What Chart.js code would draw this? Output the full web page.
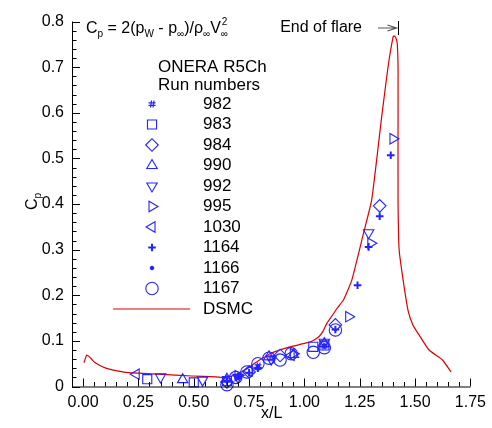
<!DOCTYPE html>
<html>
<head>
<meta charset="utf-8">
<script src="https://cdn.jsdelivr.net/npm/chart.js@4.4.1/dist/chart.umd.min.js"></script>
<style>
  html, body { margin: 0; padding: 0; background: #fff; }
</style>
</head>
<body>
<canvas id="cpChart" width="492" height="428"></canvas>
<script>
// ------------------------------- DATOS -------------------------------
const xTicks = [0, 0.25, 0.5, 0.75, 1.0, 1.25, 1.5, 1.75];
const yTicks = [0, 0.1, 0.2, 0.3, 0.4, 0.5, 0.6, 0.7, 0.8];
const runNumbers = ['982', '983', '984', '990', '992', '995', '1030', '1164', '1166', '1167'];

// experimental points [x/L, Cp]
const run982 = [[0.70, 0.021], [0.79, 0.045], [0.85, 0.062], [1.09, 0.088]];
const run983 = [[0.29, 0.016], [0.50, 0.009], [0.65, 0.012], [1.04, 0.087], [1.09, 0.090]];
const run984 = [[0.65, 0.010], [0.75, 0.032], [0.89, 0.068], [1.14, 0.135], [1.34, 0.396]];
const run990 = [[0.45, 0.015], [0.65, 0.016], [0.84, 0.065], [0.95, 0.070], [1.09, 0.094]];
const run992 = [[0.35, 0.021], [0.54, 0.014], [0.70, 0.020], [0.85, 0.060], [1.09, 0.097], [1.29, 0.337]];
const run995 = [[0.70, 0.024], [0.95, 0.072], [1.20, 0.153], [1.30, 0.314], [1.40, 0.543]];
const run1030 = [[0.24, 0.027], [0.75, 0.034], [0.94, 0.068]];
const run1164 = [[0.65, 0.012], [0.70, 0.022], [0.75, 0.030], [0.79, 0.040], [1.14, 0.125], [1.24, 0.222], [1.29, 0.306], [1.34, 0.373], [1.39, 0.507]];
const run1166 = [[0.70, 0.020], [0.79, 0.043], [1.09, 0.090]];
const run1167 = [[0.65, 0.004], [0.69, 0.020], [0.74, 0.032], [0.79, 0.050], [0.84, 0.062], [0.89, 0.058], [0.94, 0.072], [1.04, 0.075], [1.09, 0.085], [1.14, 0.124]];
const runData = [run982, run983, run984, run990, run992, run995, run1030, run1164, run1166, run1167];

// DSMC curve
const dsmcX = [0.004, 0.017, 0.035, 0.052, 0.085, 0.119, 0.193, 0.342, 0.491, 0.600, 0.640, 0.656, 0.690, 0.715, 0.745, 0.775, 0.810, 0.849, 0.900, 0.954, 1.013, 1.040, 1.065, 1.085, 1.102, 1.125, 1.147, 1.177, 1.214, 1.267, 1.304, 1.349, 1.378, 1.401, 1.408, 1.416, 1.420, 1.423, 1.423, 1.423, 1.428, 1.446, 1.468, 1.490, 1.518, 1.563, 1.624, 1.662];
const dsmcY = [0.052, 0.069, 0.062, 0.053, 0.044, 0.038, 0.031, 0.027, 0.023, 0.021, 0.020, 0.021, 0.026, 0.032, 0.041, 0.051, 0.062, 0.073, 0.082, 0.089, 0.096, 0.101, 0.109, 0.122, 0.139, 0.155, 0.171, 0.190, 0.233, 0.336, 0.409, 0.591, 0.701, 0.767, 0.768, 0.760, 0.748, 0.700, 0.584, 0.409, 0.299, 0.233, 0.167, 0.135, 0.113, 0.080, 0.058, 0.032];
const flareEnd = 1.423;

// estilos de simbolos
const runStyles = ['hash', 'rect', 'rectRot', 'triangle', 'triangle', 'triangle', 'triangle', 'cross', 'star', 'circle'];
const runRotation = [0, 0, 0, 0, 180, 90, -90, 0, 0, 0];
const runRadius = [4, 6.4, 6.3, 6, 6, 6, 6, 3.8, 2.2, 6.2];
const runWidth = [1.2, 1.1, 1.1, 1.1, 1.1, 1.1, 1.1, 2, 1.4, 1.1];

const markerBlue = 'rgb(35,35,255)';
const dsmcRed = 'rgb(220,0,0)';
const fontFam = '"Liberation Sans", Arial, sans-serif';

// simbolo '#' (no existe en Chart.js)
function makeHash() {
    const c = document.createElement('canvas');
    c.width = 12; c.height = 12;
    const g = c.getContext('2d');
    const m = 6;
    g.strokeStyle = markerBlue;
    g.lineWidth = 1.2;
    g.beginPath();
    g.moveTo(m - 0.5, m - 3.5); g.lineTo(m - 1.5, m + 3.5);
    g.moveTo(m + 2, m - 3.5); g.lineTo(m + 1, m + 3.5);
    g.moveTo(m - 3.5, m - 1.2); g.lineTo(m + 3.5, m - 1.2);
    g.moveTo(m - 3.5, m + 1.3); g.lineTo(m + 3.5, m + 1.3);
    g.stroke();
    return c;
}
const hashCanvas = makeHash();
const pointStyles = runStyles.map(s => (s === 'hash' ? hashCanvas : s));

// ------------------------------- DATASETS -------------------------------
const datasets = runData.map((pts, i) => ({
    label: runNumbers[i],
    data: pts.map(p => ({ x: p[0], y: p[1] })),
    pointStyle: pointStyles[i],
    pointRotation: runRotation[i],
    pointRadius: runRadius[i],
    pointBorderWidth: runWidth[i],
    pointBorderColor: markerBlue,
    pointBackgroundColor: 'rgba(0,0,0,0)',
    showLine: false,
    clip: false
}));
datasets.push({
    label: 'DSMC',
    data: dsmcX.map((x, i) => ({ x: x, y: dsmcY[i] })),
    showLine: true,
    borderColor: dsmcRed,
    borderWidth: 1.2,
    pointRadius: 0,
    tension: 0.15,
    clip: false
});

// texto con subindices: runs = [[texto, tamaño, dy]]
function drawRuns(g, runs, x, y) {
    for (const r of runs) {
        g.font = r[1] + 'px ' + fontFam;
        g.fillText(r[0], x, y + r[2]);
        x += g.measureText(r[0]).width;
    }
    return x;
}

// ------------------------------- PLUGIN EJES / ANOTACIONES -------------------------------
const cpDecor = {
    id: 'cpDecor',
    afterDraw(chart) {
        const g = chart.ctx;
        const xs = chart.scales.x, ys = chart.scales.y;
        const left = chart.chartArea.left, bottom = chart.chartArea.bottom;
        const top = ys.getPixelForValue(0.8), right = xs.getPixelForValue(1.75);
        g.save();
        g.strokeStyle = '#000';
        g.lineWidth = 1;
        g.beginPath();
        g.moveTo(left + 0.5, top); g.lineTo(left + 0.5, bottom + 0.5); g.lineTo(right, bottom + 0.5);
        // ticks x (hacia dentro)
        for (let k = 0; k <= 36; k++) {
            const v = -0.05 + k * 0.05;
            const px = Math.round(xs.getPixelForValue(v)) + 0.5;
            const major = Math.abs(v / 0.25 - Math.round(v / 0.25)) < 1e-6;
            g.moveTo(px, bottom); g.lineTo(px, bottom - (major ? 8 : 4.5));
        }
        // ticks y
        for (let k = 0; k <= 40; k++) {
            const v = k * 0.02;
            const py = Math.round(ys.getPixelForValue(v)) + 0.5;
            const major = k % 5 === 0;
            g.moveTo(left, py); g.lineTo(left + (major ? 8 : 4.5), py);
        }
        g.stroke();

        g.fillStyle = '#000';
        g.textBaseline = 'alphabetic';
        g.textAlign = 'left';
        // formula Cp
        const xEnd = drawRuns(g, [['C', 16, 0], ['p', 10, 4], [' = 2(p', 16, 0], ['W', 10, 4], [' - p', 16, 0], ['\u221E', 10, 4],
            [')/\u03C1', 16, 0], ['\u221E', 10, 4], ['V', 16, 0]], 86, 33);
        g.font = '10px ' + fontFam;
        g.fillText('\u221E', xEnd, 37);
        g.fillText('2', xEnd + 1, 25);

        // End of flare
        g.font = '16px ' + fontFam;
        g.textAlign = 'right';
        g.fillText('End of flare', 362, 31.5);
        const fx = Math.round(xs.getPixelForValue(flareEnd)) + 0.5;
        g.strokeStyle = '#555';
        g.lineWidth = 1.2;
        g.beginPath();
        g.moveTo(378, 28); g.lineTo(fx - 2, 28);
        g.moveTo(fx - 11, 25); g.lineTo(fx - 2, 28); g.lineTo(fx - 11, 31);
        g.stroke();
        g.strokeStyle = '#000';
        g.lineWidth = 1;
        g.beginPath();
        g.moveTo(fx, 21); g.lineTo(fx, 35);
        g.stroke();

        // titulo eje x
        g.textAlign = 'center';
        g.font = '16px ' + fontFam;
        g.fillText('x/L', (left + right) / 2 + 0.5, 418);

        // titulo eje y (C_p rotado)
        g.save();
        g.translate(36.5, 210);
        g.rotate(-Math.PI / 2);
        g.textAlign = 'left';
        drawRuns(g, [['C', 16, 0], ['p', 10, 4]], 0, 0);
        g.restore();

        // leyenda
        g.textAlign = 'left';
        g.textBaseline = 'middle';
        g.font = '17px ' + fontFam;
        g.fillText('ONERA R5Ch', 158, 67);
        g.fillText('Run numbers', 158, 85);
        for (let i = 0; i < runNumbers.length; i++) {
            const yy = 104 + i * 20.5;
            g.save();
            g.strokeStyle = markerBlue;
            g.fillStyle = 'rgba(0,0,0,0)';
            g.lineWidth = runWidth[i];
            Chart.helpers.drawPoint(g, {
                pointStyle: pointStyles[i], rotation: runRotation[i],
                radius: runRadius[i], borderWidth: runWidth[i]
            }, 152, yy);
            g.restore();
            g.fillText(runNumbers[i], 203, yy);
        }
        const yd = 104 + runNumbers.length * 20.5;
        g.strokeStyle = dsmcRed;
        g.lineWidth = 1.2;
        g.beginPath();
        g.moveTo(113, yd); g.lineTo(190, yd);
        g.stroke();
        g.fillText('DSMC', 203, yd);
        g.restore();
    }
};

// ------------------------------- GRAFICA -------------------------------
const chart = new Chart(document.getElementById('cpChart'), {
    type: 'scatter',
    data: { datasets: datasets },
    options: {
        responsive: false,
        animation: false,
        devicePixelRatio: 1,
        layout: { padding: { top: 21.5, right: 17, left: 0, bottom: 0 } },
        plugins: { legend: { display: false }, tooltip: { enabled: false } },
        scales: {
            x: {
                type: 'linear', min: -0.05, max: 1.75,
                afterFit: s => { s.height = 41.5; },
                afterBuildTicks: s => { s.ticks = xTicks.map(v => ({ value: v })); },
                grid: { display: false, drawTicks: false },
                border: { display: false },
                ticks: {
                    color: '#000', padding: 6, maxRotation: 0, autoSkip: false,
                    font: { family: fontFam, size: 16 },
                    callback: v => Number(v).toFixed(2)
                }
            },
            y: {
                type: 'linear', min: 0, max: 0.8,
                afterFit: s => { s.width = 72; },
                afterBuildTicks: s => { s.ticks = yTicks.map(v => ({ value: v })); },
                grid: { display: false, drawTicks: false },
                border: { display: false },
                ticks: {
                    color: '#000', padding: 8, autoSkip: false,
                    font: { family: fontFam, size: 16 },
                    callback: v => (v === 0 ? '0' : Number(v).toFixed(1))
                }
            }
        }
    },
    plugins: [cpDecor]
});
</script>
</body>
</html>
